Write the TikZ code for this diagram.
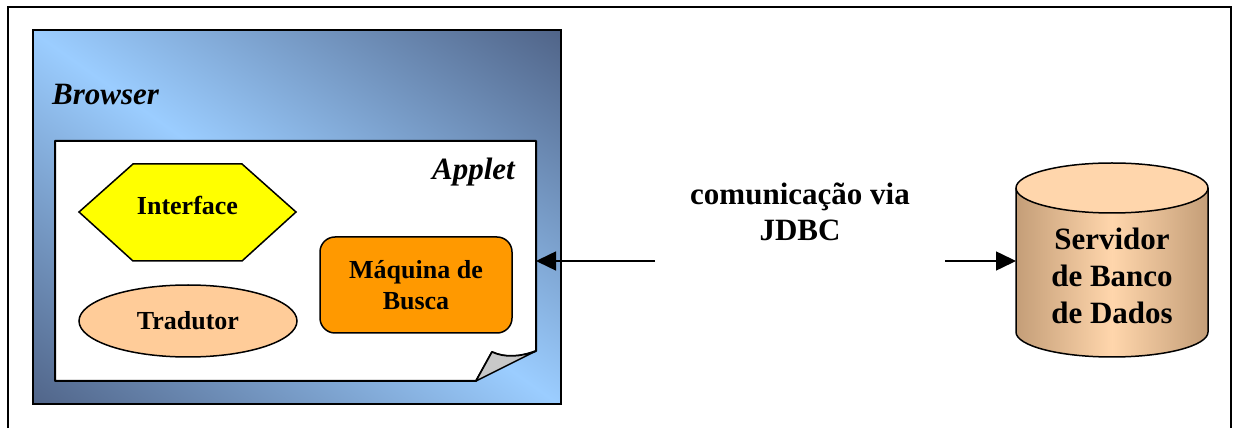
\documentclass[tikz,border=0pt]{standalone}
\usepackage{fontspec}
\setmainfont{Liberation Serif}
\usetikzlibrary{arrows.meta,shapes.geometric}
\definecolor{bdark}{RGB}{80,100,136}
\definecolor{blight}{RGB}{155,205,255}
\definecolor{hexyellow}{RGB}{255,255,0}
\definecolor{peach}{RGB}{255,204,153}
\definecolor{orangebox}{RGB}{255,153,0}
\definecolor{cdark}{RGB}{196,158,120}
\definecolor{clight}{RGB}{255,214,172}
\definecolor{flapgray}{RGB}{200,200,200}
\tikzset{
  frameline/.style={line width=2pt},
  shapeline/.style={draw=black, line width=1.5pt},
  bigtext/.style={inner sep=0pt, font=\fontsize{31}{36}\selectfont\bfseries},
  smalltext/.style={font=\fontsize{26}{31}\selectfont\bfseries},
  conn/.style={line width=1.5pt, -{Triangle[length=20pt,width=19pt]}}
}
\begin{document}
\begin{tikzpicture}[x=1pt,y=1pt]
\useasboundingbox (0,0) rectangle (1233,428);
% outer frame (open at the bottom)
\draw[frameline] (8,0) -- (8,421) -- (1231,421) -- (1231,0);
% Browser box: diagonal gradient, light along the top-left/bottom-right diagonal
\begin{scope}
  \clip (32,23) rectangle (560,397);
  \begin{scope}[transform canvas={shift={(296,210)}, rotate=-35.3}]
    \shade[top color=bdark, bottom color=bdark, middle color=blight]
      (-420,-306) rectangle (420,306);
  \end{scope}
\end{scope}
\node[name=browser, draw=black, line width=2pt, anchor=south west,
  minimum width=528pt, minimum height=374pt, inner sep=0pt] at (32,23) {};
\node[bigtext, anchor=base west, font=\fontsize{31}{36}\selectfont\bfseries\itshape]
  (browsertext) at (52,323) {Browser};
% Applet page with curled corner
\draw[fill=white, line width=2pt, line join=round]
  (55,47) -- (55,287) -- (536,287) -- (536,77)
  .. controls (520,71) and (505,70) .. (492,76) -- (476,47) -- cycle;
\draw[fill=flapgray, line width=1.5pt, line join=round]
  (492,76) .. controls (505,70) and (520,71) .. (536,77) -- (476,47) -- cycle;
\coordinate (appletE) at (536,167);
\node[bigtext, anchor=base east, font=\fontsize{31}{36}\selectfont\bfseries\itshape]
  (applettext) at (515,248) {Applet};
% Interface hexagon
\draw[shapeline, fill=hexyellow]
  (79,216) -- (133,264) -- (242,264) -- (296,216) -- (242,167) -- (133,167) -- cycle;
\node[smalltext, inner sep=0pt] (interface) at (187.5,223) {Interface};
% Tradutor ellipse
\node[ellipse, shapeline, fill=peach, minimum width=218pt, minimum height=72pt,
  inner sep=0pt, smalltext] (tradutor) at (188,107) {Tradutor};
% Maquina de Busca
\node[rectangle, rounded corners=15pt, shapeline, fill=orangebox,
  minimum width=192pt, minimum height=96pt, align=center, inner sep=0pt, smalltext]
  (maquina) at (416,143) {Máquina de\\Busca};
% communication label
\node[bigtext, align=center] (jdbc) at (800,216) {comunicação via\\JDBC};
\coordinate (jL) at (655,167);
\coordinate (jR) at (945,167);
% Database cylinder
\path[left color=cdark, right color=cdark, middle color=clight]
  (1016,240) -- (1016,96) arc[start angle=180, end angle=360, x radius=96, y radius=25]
  -- (1208,240) -- cycle;
\draw[line width=1.5pt] (1016,240) -- (1016,96)
  arc[start angle=180, end angle=360, x radius=96, y radius=25] -- (1208,240);
\draw[line width=1.5pt, fill=clight] (1112,240) ellipse[x radius=96, y radius=25];
\coordinate (dbW) at (1016,167);
\node[bigtext, align=center, font=\fontsize{31}{37}\selectfont\bfseries]
  (db) at (1112,152) {Servidor\\de Banco\\de Dados};
% connectors
\draw[conn] (jL) -- (appletE);
\draw[conn] (jR) -- (dbW);
\end{tikzpicture}
\end{document}
